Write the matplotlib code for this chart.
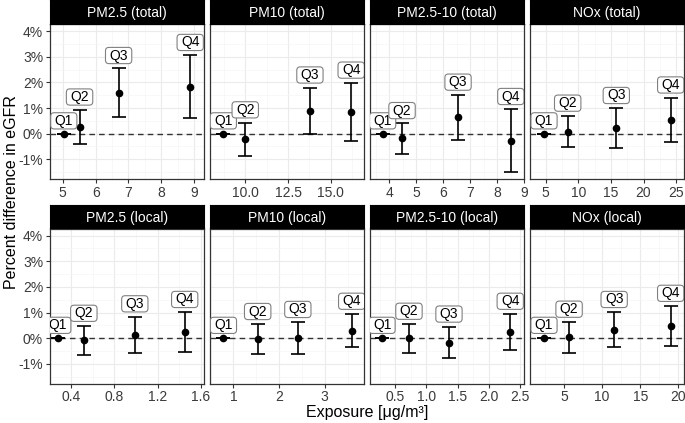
import matplotlib
matplotlib.use("Agg")
import matplotlib.pyplot as plt
from matplotlib.patches import BoxStyle
from matplotlib.ticker import MultipleLocator, FormatStrFormatter, FuncFormatter

plt.rcParams['font.family'] = ['Liberation Sans', 'DejaVu Sans']

# panel titles
titulos = ["PM2.5 (total)", "PM10 (total)", "PM2.5-10 (total)", "NOx (total)",
           "PM2.5 (local)", "PM10 (local)", "PM2.5-10 (local)", "NOx (local)"]
cuartiles = ["Q1", "Q2", "Q3", "Q4"]

# exposure (median of each quartile)
pm25_total_x = [5.03, 5.51, 6.70, 8.88]
pm10_total_x = [8.72, 10.0, 13.78, 16.19]
pm2510_total_x = [3.75, 4.47, 6.55, 8.51]
nox_total_x = [4.74, 8.37, 15.82, 24.16]
pm25_local_x = [0.28, 0.52, 0.99, 1.45]
pm10_local_x = [0.78, 1.53, 2.41, 3.59]
pm2510_local_x = [0.29, 0.72, 1.36, 2.34]
nox_local_x = [2.37, 5.66, 11.58, 19.0]

# percent difference in eGFR: estimate, lower, upper
pm25_total_est = [0, 0.26, 1.58, 1.81]
pm25_total_lo = [0, -0.40, 0.64, 0.60]
pm25_total_hi = [0, 0.93, 2.55, 3.06]
pm10_total_est = [0, -0.22, 0.88, 0.85]
pm10_total_lo = [0, -0.87, -0.01, -0.27]
pm10_total_hi = [0, 0.43, 1.79, 1.98]
pm2510_total_est = [0, -0.18, 0.65, -0.27]
pm2510_total_lo = [0, -0.78, -0.23, -1.48]
pm2510_total_hi = [0, 0.40, 1.51, 0.95]
nox_total_est = [0, 0.07, 0.21, 0.54]
nox_total_lo = [0, -0.53, -0.56, -0.33]
nox_total_hi = [0, 0.69, 0.99, 1.40]
pm25_local_est = [0, -0.09, 0.13, 0.24]
pm25_local_lo = [0, -0.67, -0.56, -0.54]
pm25_local_hi = [0, 0.47, 0.84, 1.01]
pm10_local_est = [0, -0.04, 0.01, 0.27]
pm10_local_lo = [0, -0.61, -0.61, -0.36]
pm10_local_hi = [0, 0.54, 0.62, 0.94]
pm2510_local_est = [0, 0.0, -0.17, 0.25]
pm2510_local_lo = [0, -0.58, -0.77, -0.45]
pm2510_local_hi = [0, 0.55, 0.44, 0.94]
nox_local_est = [0, 0.04, 0.31, 0.48]
nox_local_lo = [0, -0.56, -0.36, -0.30]
nox_local_hi = [0, 0.63, 1.01, 1.25]

datos = [
    (pm25_total_x, pm25_total_est, pm25_total_lo, pm25_total_hi),
    (pm10_total_x, pm10_total_est, pm10_total_lo, pm10_total_hi),
    (pm2510_total_x, pm2510_total_est, pm2510_total_lo, pm2510_total_hi),
    (nox_total_x, nox_total_est, nox_total_lo, nox_total_hi),
    (pm25_local_x, pm25_local_est, pm25_local_lo, pm25_local_hi),
    (pm10_local_x, pm10_local_est, pm10_local_lo, pm10_local_hi),
    (pm2510_local_x, pm2510_local_est, pm2510_local_lo, pm2510_local_hi),
    (nox_local_x, nox_local_est, nox_local_lo, nox_local_hi),
]

# x scales (free per panel)
xlims = [(4.61, 9.30), (7.94, 16.94), (3.28, 9.0), (2.59, 26.2),
         (0.208, 1.628), (0.485, 3.86), (0.097, 2.56), (0.53, 20.75)]
xpasos = [1, 2.5, 1, 5, 0.4, 1, 0.5, 5]
xformatos = ["%g", "%.1f", "%g", "%g", "%.1f", "%g", "%.1f", "%g"]


# caja redondeada con mas relleno horizontal que vertical (como geom_label)
def caja(x0, y0, width, height, mutation_size):
    px = 0.28 * mutation_size
    py = 0.08 * mutation_size
    return BoxStyle.Round(pad=0, rounding_size=0.25)(
        x0 - px, y0 - py, width + 2 * px, height + 2 * py, mutation_size)


W, H = 685, 423
fig = plt.figure(figsize=(W / 100, H / 100), dpi=100)

col_izq = [50, 210, 370, 530]
ancho = 154
fila_top = [24, 228.5]
fila_bot = [179, 383.5]
alto_strip = 23.5

gris = "#333333"

for i, (titulo, (x, est, lo, hi)) in enumerate(zip(titulos, datos)):
    fila, col = divmod(i, 4)
    l = col_izq[col] / W
    b = 1 - fila_bot[fila] / H
    h = (fila_bot[fila] - fila_top[fila]) / H
    ax = fig.add_axes([l, b, ancho / W, h])

    # strip
    st = fig.add_axes([l, 1 - fila_top[fila] / H, ancho / W, alto_strip / H])
    st.set_facecolor("black")
    st.set_xticks([])
    st.set_yticks([])
    for s in st.spines.values():
        s.set_color("black")
    st.text(0.5, 0.45, titulo, color="white", fontsize=10,
            ha="center", va="center", transform=st.transAxes)

    ax.axhline(0, color=gris, lw=1, ls=(0, (4, 3)), zorder=2)
    yerr = [[e - a for e, a in zip(est, lo)], [b2 - e for e, b2 in zip(est, hi)]]
    ax.errorbar(x, est, yerr=yerr, fmt="o", color="black", ms=4.5,
                elinewidth=1.2, capsize=5, capthick=1.2, zorder=3)
    for xi, hi_i, q in zip(x, hi, cuartiles):
        ax.text(xi, hi_i + 0.5, q, fontsize=10, ha="center", va="center",
                color="black", zorder=5, clip_on=True,
                bbox=dict(boxstyle=caja, fc="white", ec="#808080", lw=0.8))

    ax.set_xlim(*xlims[i])
    ax.set_ylim(-1.77, 4.28)
    ax.xaxis.set_major_locator(MultipleLocator(xpasos[i]))
    ax.xaxis.set_minor_locator(MultipleLocator(xpasos[i] / 2))
    ax.xaxis.set_major_formatter(FormatStrFormatter(xformatos[i]))
    ax.yaxis.set_major_locator(MultipleLocator(1))
    ax.yaxis.set_minor_locator(MultipleLocator(0.5))
    ax.yaxis.set_major_formatter(FuncFormatter(lambda v, p: "%d%%" % round(v)))
    ax.grid(True, which="major", color="#EBEBEB", lw=0.8)
    ax.grid(True, which="minor", color="#F5F5F5", lw=0.5)
    ax.set_axisbelow(True)
    ax.tick_params(which="minor", length=0)
    ax.tick_params(which="major", length=3, color=gris, labelsize=10,
                   labelcolor="#3A3A3A", pad=2)
    if col != 0:
        ax.tick_params(axis="y", left=False, labelleft=False)
    for s in ax.spines.values():
        s.set_color(gris)
        s.set_linewidth(0.9)

fig.text(12 / W, 1 - 192 / H, "Percent difference in eGFR", rotation=90,
         ha="center", va="center", fontsize=11.5)
fig.text(367 / W, 1 - 412 / H, "Exposure [μg/m³]", ha="center", va="center",
         fontsize=11.5)

fig.savefig("out.png", dpi=100)
